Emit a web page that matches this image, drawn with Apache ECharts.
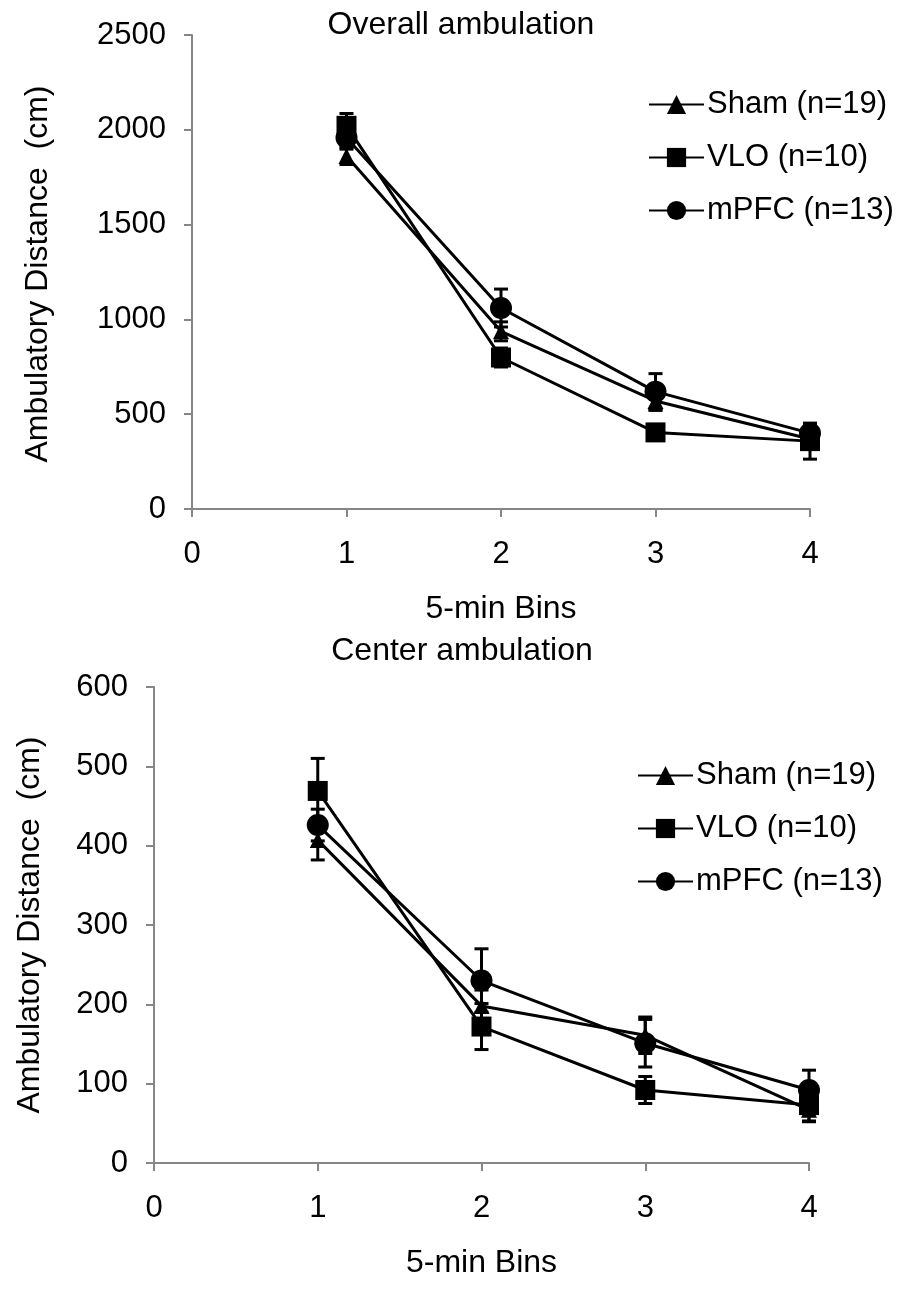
<!DOCTYPE html>
<html><head><meta charset="utf-8">
<script src="https://cdn.jsdelivr.net/npm/echarts@6/dist/echarts.min.js"></script>
<style>html,body{margin:0;padding:0;background:#fff}#c{width:899px;height:1289px}</style>
</head><body><div id="c"></div>
<script>
// ---- data ----
const bins = [1, 2, 3, 4];
const xTicks = [0, 1, 2, 3, 4];
const seriesNames = ['Sham (n=19)', 'VLO (n=10)', 'mPFC (n=13)'];
const overallTitle = 'Overall ambulation';
const centerTitle = 'Center ambulation';
const xName = '5-min Bins';
const yName = 'Ambulatory Distance  (cm)';

const overallSham = [1862, 937, 570, 369];
const overallShamErr = [45, 50, 50, 40];
const overallVLO = [2021, 799, 404, 358];
const overallVLOErr = [65, 50, 40, 95];
const overallMPFC = [1958, 1060, 619, 400];
const overallMPFCErr = [60, 100, 95, 40];

const centerSham = [407, 198, 161, 67];
const centerShamErr = [25, 20, 23, 15];
const centerVLO = [469, 172, 92, 73];
const centerVLOErr = [41, 29, 17, 20];
const centerMPFC = [426, 230, 151, 92];
const centerMPFCErr = [20, 40, 30, 25];

// ---- chart ----
const FONT = '"Liberation Sans", Arial, sans-serif';
const FS_TICK = 31;
const FS = 32;
const FS_LEG = 31;
const chart = echarts.init(document.getElementById('c'), null, {renderer: 'canvas'});

function lineSeries(name, idx, vals, symbol, size) {
  return {
    type: 'line', name, xAxisIndex: idx, yAxisIndex: idx,
    data: bins.map((b, i) => [b, vals[i]]),
    symbol, symbolSize: size, showAllSymbol: true,
    lineStyle: {color: '#000', width: 3},
    itemStyle: {color: '#000', borderWidth: 0},
    z: 3, animation: false
  };
}
function errSeries(idx, vals, errs) {
  return {
    type: 'custom', name: 'err', xAxisIndex: idx, yAxisIndex: idx, silent: true, z: 2,
    data: bins.map((b, i) => [b, vals[i], errs[i]]),
    encode: {x: 0, y: 1},
    renderItem: (params, api) => {
      const x = api.value(0), y = api.value(1), e = api.value(2);
      const hi = api.coord([x, y + e]), lo = api.coord([x, y - e]);
      const w = 7;
      const style = {stroke: '#000', lineWidth: 3};
      return {type: 'group', children: [
        {type: 'line', shape: {x1: hi[0], y1: hi[1], x2: lo[0], y2: lo[1]}, style},
        {type: 'line', shape: {x1: hi[0] - w, y1: hi[1], x2: hi[0] + w, y2: hi[1]}, style},
        {type: 'line', shape: {x1: lo[0] - w, y1: lo[1], x2: lo[0] + w, y2: lo[1]}, style}
      ]};
    },
    animation: false
  };
}
function xAxis(idx) {
  return {
    gridIndex: idx, type: 'value', min: 0, max: 4, interval: 1,
    axisLine: {lineStyle: {color: '#868686', width: 2}},
    axisTick: {show: true, inside: false, length: 8, lineStyle: {color: '#868686', width: 2}},
    splitLine: {show: false},
    axisLabel: {color: '#000', fontSize: FS_TICK, fontFamily: FONT, margin: 30,
      formatter: v => xTicks.includes(v) ? String(v) : ''},
    name: xName, nameLocation: 'middle', nameGap: 84,
    nameTextStyle: {color: '#000', fontSize: FS, fontFamily: FONT}
  };
}
function yAxis(idx, max, interval) {
  return {
    gridIndex: idx, type: 'value', min: 0, max, interval,
    axisLine: {show: true, lineStyle: {color: '#868686', width: 2}},
    axisTick: {show: true, inside: false, length: 8, lineStyle: {color: '#868686', width: 2}},
    splitLine: {show: false},
    axisLabel: {color: '#000', fontSize: FS_TICK, fontFamily: FONT, margin: 26,
      formatter: v => String(v)}
  };
}
function legend(top, left) {
  return {
    show: true, orient: 'vertical', left, top, data: seriesNames,
    itemWidth: 55, itemHeight: 24, itemGap: 22,
    textStyle: {color: '#000', fontSize: FS_LEG, fontFamily: FONT, padding: [0, 0, 0, -2]},
    selectedMode: false
  };
}

chart.setOption({
  animation: false,
  backgroundColor: '#fff',
  title: [
    {text: overallTitle, left: 456, top: 4, textAlign: 'center',
      textStyle: {color: '#000', fontSize: FS, fontWeight: 'normal', fontFamily: FONT}},
    {text: centerTitle, left: 457, top: 630, textAlign: 'center',
      textStyle: {color: '#000', fontSize: FS, fontWeight: 'normal', fontFamily: FONT}}
  ],
  grid: [
    {left: 192, right: 89, top: 35, height: 474},
    {left: 154, right: 90, top: 687, height: 476}
  ],
  xAxis: [xAxis(0), xAxis(1)],
  yAxis: [yAxis(0, 2500, 500), yAxis(1, 600, 100)],
  legend: [legend(84, 643), legend(755, 632)],
  graphic: [
    {type: 'text', x: 38, y: 274, rotation: Math.PI / 2,
      style: {text: yName, fill: '#000', font: FS + 'px ' + FONT, align: 'center', verticalAlign: 'middle'}},
    {type: 'text', x: 30, y: 925, rotation: Math.PI / 2,
      style: {text: yName, fill: '#000', font: FS + 'px ' + FONT, align: 'center', verticalAlign: 'middle'}}
  ],
  series: [
    errSeries(0, overallSham, overallShamErr),
    errSeries(0, overallVLO, overallVLOErr),
    errSeries(0, overallMPFC, overallMPFCErr),
    lineSeries(seriesNames[0], 0, overallSham, 'triangle', 16),
    lineSeries(seriesNames[1], 0, overallVLO, 'rect', 20),
    lineSeries(seriesNames[2], 0, overallMPFC, 'circle', 22),
    errSeries(1, centerSham, centerShamErr),
    errSeries(1, centerVLO, centerVLOErr),
    errSeries(1, centerMPFC, centerMPFCErr),
    lineSeries(seriesNames[0], 1, centerSham, 'triangle', 16),
    lineSeries(seriesNames[1], 1, centerVLO, 'rect', 20),
    lineSeries(seriesNames[2], 1, centerMPFC, 'circle', 22)
  ]
});
</script>
</body></html>
